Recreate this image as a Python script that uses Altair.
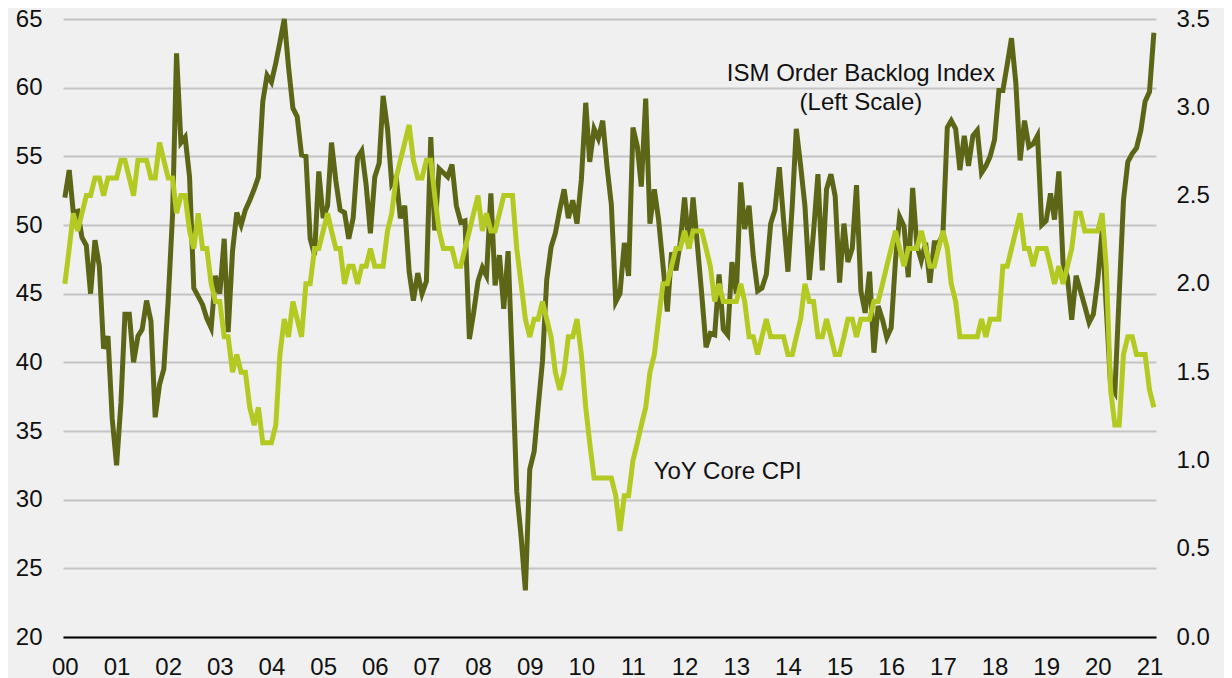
import altair as alt
import pandas as pd

# ISM Order Backlog Index, monthly, Jan 2000 - Feb 2021 (left scale)
ism_backlog = [
    52.0, 54.0, 50.9, 51.0, 49.1, 48.5, 45.0, 48.9, 47.0, 41.0, 41.9, 35.9,  # 2000
    32.5, 37.1, 43.5, 43.5, 40.0, 41.9, 42.4, 44.5, 43.0, 36.0, 38.4, 39.5,  # 2001
    44.5, 50.8, 62.5, 56.0, 56.4, 53.5, 45.4, 44.8, 44.2, 43.2, 42.5, 46.3,  # 2002
    45.0, 49.0, 42.2, 48.1, 50.9, 50.0, 51.1, 51.8, 52.6, 53.5, 59.0, 60.9,  # 2003
    60.4, 61.8, 63.3, 65.0, 61.5, 58.5, 57.9, 55.1, 55.0, 49.0, 47.8, 53.9,  # 2004
    50.5, 51.4, 56.0, 53.2, 51.1, 50.9, 49.0, 50.5, 54.9, 55.4, 52.9, 49.4,  # 2005
    53.5, 54.5, 59.4, 57.0, 53.0, 53.5, 50.5, 51.4, 46.6, 44.5, 46.5, 45.0,  # 2006
    45.9, 56.4, 49.6, 54.1, 53.8, 53.5, 54.4, 51.4, 50.2, 50.3, 41.7, 43.6,  # 2007
    45.9, 46.9, 46.3, 52.3, 45.6, 47.8, 43.9, 48.1, 39.5, 30.6, 27.3, 23.4,  # 2008
    32.2, 33.5, 36.7, 40.1, 46.0, 48.4, 49.4, 51.1, 52.6, 50.5, 51.8, 50.1,  # 2009
    53.3, 58.9, 54.6, 57.0, 56.3, 57.6, 54.3, 51.5, 44.4, 45.0, 48.7, 46.3,  # 2010
    57.1, 55.7, 52.8, 59.2, 50.1, 52.6, 50.4, 47.1, 43.7, 48.0, 46.7, 48.7,  # 2011
    52.0, 48.3, 52.0, 48.5, 45.0, 41.1, 42.1, 42.0, 46.4, 42.4, 42.0, 47.3,  # 2012
    45.0, 53.1, 49.7, 51.4, 47.7, 45.2, 45.4, 46.4, 50.1, 51.1, 54.2, 50.4,  # 2013
    46.6, 51.5, 57.0, 54.3, 51.4, 46.0, 49.5, 53.7, 46.7, 52.6, 53.7, 52.1,  # 2014
    45.8, 50.1, 47.3, 48.3, 52.9, 45.2, 43.6, 46.6, 40.7, 44.1, 43.1, 41.8,  # 2015
    42.5, 47.5, 50.6, 49.9, 46.2, 52.7, 48.5, 47.4, 48.7, 45.8, 48.7, 48.7,  # 2016
    49.3, 57.1, 57.6, 57.0, 54.0, 56.5, 54.3, 56.5, 56.9, 53.8, 54.3, 55.0,  # 2017
    56.2, 59.8, 59.8, 61.7, 63.6, 60.3, 54.7, 57.6, 55.7, 55.9, 56.5, 50.0,  # 2018
    50.3, 52.3, 50.4, 53.9, 47.2, 46.2, 43.1, 46.3, 45.2, 44.1, 42.9, 43.5,  # 2019
    46.0, 49.6, 44.0, 38.3, 37.8, 45.0, 51.8, 54.6, 55.2, 55.6, 56.9, 59.0,  # 2020
    59.7, 64.0,                                                              # 2021
]

# YoY Core CPI (%), monthly, Jan 2000 - Feb 2021 (right scale)
core_cpi_yoy = [
    2.0, 2.2, 2.4, 2.3, 2.4, 2.5, 2.5, 2.6, 2.6, 2.5, 2.6, 2.6,  # 2000
    2.6, 2.7, 2.7, 2.6, 2.5, 2.7, 2.7, 2.7, 2.6, 2.6, 2.8, 2.7,  # 2001
    2.6, 2.6, 2.4, 2.5, 2.5, 2.3, 2.2, 2.4, 2.2, 2.2, 2.0, 1.9,  # 2002
    1.9, 1.7, 1.7, 1.5, 1.6, 1.5, 1.5, 1.3, 1.2, 1.3, 1.1, 1.1,  # 2003
    1.1, 1.2, 1.6, 1.8, 1.7, 1.9, 1.8, 1.7, 2.0, 2.0, 2.2, 2.2,  # 2004
    2.3, 2.4, 2.3, 2.2, 2.2, 2.0, 2.1, 2.1, 2.0, 2.1, 2.1, 2.2,  # 2005
    2.1, 2.1, 2.1, 2.3, 2.4, 2.6, 2.7, 2.8, 2.9, 2.7, 2.6, 2.6,  # 2006
    2.7, 2.7, 2.5, 2.3, 2.2, 2.2, 2.2, 2.1, 2.1, 2.2, 2.3, 2.4,  # 2007
    2.5, 2.3, 2.4, 2.3, 2.3, 2.4, 2.5, 2.5, 2.5, 2.2, 2.0, 1.8,  # 2008
    1.7, 1.8, 1.8, 1.9, 1.8, 1.7, 1.5, 1.4, 1.5, 1.7, 1.7, 1.8,  # 2009
    1.6, 1.3, 1.1, 0.9, 0.9, 0.9, 0.9, 0.9, 0.8, 0.6, 0.8, 0.8,  # 2010
    1.0, 1.1, 1.2, 1.3, 1.5, 1.6, 1.8, 2.0, 2.0, 2.1, 2.2, 2.2,  # 2011
    2.3, 2.2, 2.3, 2.3, 2.3, 2.2, 2.1, 1.9, 2.0, 1.9, 1.9, 1.9,  # 2012
    1.9, 2.0, 1.9, 1.7, 1.7, 1.6, 1.7, 1.8, 1.7, 1.7, 1.7, 1.7,  # 2013
    1.6, 1.6, 1.7, 1.8, 2.0, 1.9, 1.9, 1.7, 1.7, 1.8, 1.7, 1.6,  # 2014
    1.6, 1.7, 1.8, 1.8, 1.7, 1.8, 1.8, 1.8, 1.9, 1.9, 2.0, 2.1,  # 2015
    2.2, 2.3, 2.2, 2.1, 2.2, 2.2, 2.2, 2.3, 2.2, 2.1, 2.1, 2.2,  # 2016
    2.3, 2.2, 2.0, 1.9, 1.7, 1.7, 1.7, 1.7, 1.7, 1.8, 1.7, 1.8,  # 2017
    1.8, 1.8, 2.1, 2.1, 2.2, 2.3, 2.4, 2.2, 2.2, 2.1, 2.2, 2.2,  # 2018
    2.2, 2.1, 2.0, 2.1, 2.0, 2.1, 2.2, 2.4, 2.4, 2.3, 2.3, 2.3,  # 2019
    2.3, 2.4, 2.1, 1.4, 1.2, 1.2, 1.6, 1.7, 1.7, 1.6, 1.6, 1.6,  # 2020
    1.4, 1.3,                                                    # 2021
]

assert len(ism_backlog) == len(core_cpi_yoy) == 254

tick_years = list(range(2000, 2022))                 # x labels 00 .. 21
left_ticks = [20, 25, 30, 35, 40, 45, 50, 55, 60, 65]
right_ticks = [0.0, 0.5, 1.0, 1.5, 2.0, 2.5, 3.0, 3.5]

ann_dates = ["2015-06-01", "2015-06-01", "2012-11-01"]
ann_values = [60.5, 58.4, 31.5]
ann_texts = ["ISM Order Backlog Index", "(Left Scale)", "YoY Core CPI"]

FONT = "Liberation Sans"
DARK = "#5c6616"
LIGHT = "#b4c922"

df = pd.DataFrame({
    "date": pd.date_range("2000-01-01", periods=len(ism_backlog), freq="MS"),
    "ism": ism_backlog,
    "cpi": core_cpi_yoy,
})
ann = pd.DataFrame({"date": pd.to_datetime(ann_dates), "val": ann_values, "text": ann_texts})

x_enc = alt.X(
    "date:T",
    scale=alt.Scale(
        domain=[alt.DateTime(year=1999, month=12, date=19),
                alt.DateTime(year=2021, month=2, date=16)],
        nice=False,
    ),
    axis=alt.Axis(
        values=[alt.DateTime(year=y, month=1, date=1) for y in tick_years],
        format="%y", title=None, grid=False, ticks=False, tickSize=0,
        domain=True, domainColor="#000000", domainWidth=2,
        labelPadding=18, labelFontSize=24, labelFlush=False, labelOverlap=False,
        zindex=1,
    ),
)

ism_line = alt.Chart(df).mark_line(color=DARK, strokeWidth=5).encode(
    x=x_enc,
    y=alt.Y(
        "ism:Q",
        scale=alt.Scale(domain=[20, 65], nice=False, zero=False),
        axis=alt.Axis(
            values=left_ticks, title=None, domain=False, ticks=False, tickSize=0,
            labelPadding=21, labelFontSize=24, grid=True,
            gridColor="#c4c4c4", gridWidth=2,
        ),
    ),
)

cpi_line = alt.Chart(df).mark_line(color=LIGHT, strokeWidth=5).encode(
    x=x_enc,
    y=alt.Y(
        "cpi:Q",
        scale=alt.Scale(domain=[0, 3.5], nice=False, zero=False),
        axis=alt.Axis(
            orient="right", values=right_ticks, format=".1f", title=None,
            domain=False, ticks=False, tickSize=0, labelPadding=20,
            labelFontSize=24, grid=False,
        ),
    ),
)

labels = alt.Chart(ann).mark_text(
    font=FONT, fontSize=24, color="#111111", align="center", baseline="alphabetic"
).encode(
    x=x_enc,
    y=alt.Y("val:Q", scale=alt.Scale(domain=[20, 65], nice=False, zero=False), axis=None),
    text="text:N",
)

chart = (
    alt.layer(ism_line, cpi_line, labels)
    .resolve_scale(y="independent")
    .properties(
        width=1093,
        height=618,
        padding={"left": 55, "top": 11, "right": 68, "bottom": 41},
        autosize=alt.AutoSizeParams(type="none"),
        background="#f0f0f0",
    )
    .configure_view(stroke=None)
    .configure_axis(labelFont=FONT, labelColor="#111111")
)

chart.save("out.html", embed_options={"renderer": "svg", "actions": False})
